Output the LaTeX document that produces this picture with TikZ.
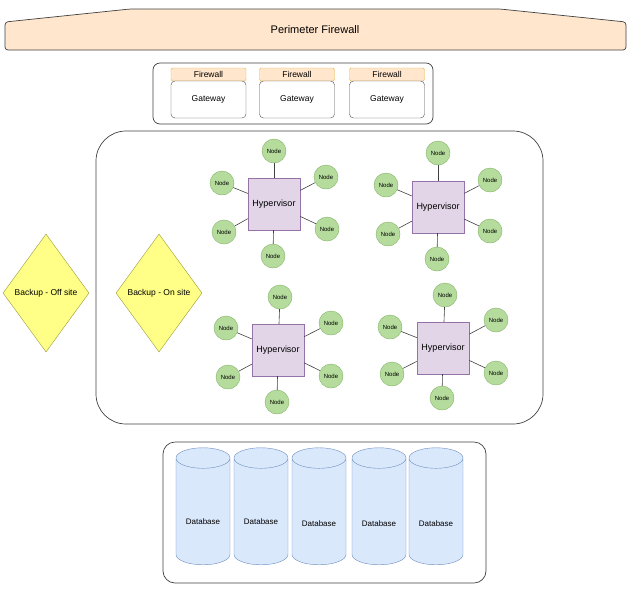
\documentclass[tikz,border=0pt]{standalone}
\usepackage{fontspec}
\setmainfont{Liberation Sans}
\usetikzlibrary{shapes.geometric}
\definecolor{fwf}{HTML}{FFE6CC}\definecolor{fwd}{HTML}{D79B00}
\definecolor{ndf}{HTML}{B5DC9C}\definecolor{ndd}{HTML}{82B366}
\definecolor{hvf}{HTML}{E1D5E7}\definecolor{hvd}{HTML}{9673A6}
\definecolor{dbf}{HTML}{DAE8FC}\definecolor{dbd}{HTML}{6C8EBF}
\definecolor{dmf}{HTML}{FFFF88}\definecolor{dmd}{HTML}{9A9A3A}
\begin{document}
\begin{tikzpicture}[x=1pt,y=-1pt,
  cont/.style={draw=black!75,rounded corners=#1,line width=0.7pt},
  hdr/.style={draw=fwd!70,fill=fwf,rounded corners=1.5pt,minimum width=75pt,minimum height=13pt,inner sep=0,font=\fontsize{8.5}{9}\selectfont},
  gw/.style={draw=black!70,fill=white,rounded corners=4pt,minimum width=75pt,minimum height=37pt,inner sep=0,font=\fontsize{8.5}{9}\selectfont},
  nd/.style={circle,draw=ndd,fill=ndf,minimum size=24pt,inner sep=0,font=\fontsize{6}{6}\selectfont},
  hv/.style={draw=hvd,fill=hvf,minimum size=52pt,inner sep=0,font=\fontsize{9}{9}\selectfont},
  dm/.style={diamond,aspect=0.72,draw=dmd,fill=dmf,inner sep=0,minimum width=86pt,minimum height=118pt,font=\fontsize{8.5}{9}\selectfont},
  db/.style={cylinder,shape border rotate=90,aspect=0.6,draw=dbd,fill=dbf,minimum width=54pt,minimum height=117pt,inner sep=0,font=\fontsize{8}{9}\selectfont},
  dbl/.style={font=\fontsize{8}{9}\selectfont},
  ln/.style={draw=black!75,line width=0.6pt}]
\useasboundingbox (0,0) rectangle (632,590);
\draw[draw=black!75,fill=fwf,line width=0.7pt,rounded corners=3pt] (5,22) -- (130,9) -- (500,9) -- (626,22) -- (626,50) -- (5,50) -- cycle;
\node (pf) at (315,30) {\fontsize{11}{12}\selectfont Perimeter Firewall};
\draw[cont=7pt] (153,63) rectangle (433,124);
\foreach \i/\x in {1/208.5,2/297,3/387}{
  \node[hdr] (f\i) at (\x,74.5) {Firewall};
  \node[gw] (g\i) at (\x,99.5) {Gateway};}
\draw[cont=30pt] (96,131) rectangle (543,424);
\node[dm] (b1) at (46,293) {Backup - Off site};
\node[dm] (b2) at (159,293) {Backup - On site};
\newcommand\cluster[3]{%
  \node[hv] (h#1) at #2 {Hypervisor};
  \foreach \p [count=\k] in {#3}{
    \node[nd] (n#1\k) at \p {Node};
    \draw[ln] (h#1) -- (n#1\k);}}
\cluster{a}{(274,204)}{(274,151),(326,177),(327,229),(273,256),(224,232),(222,183)}
\cluster{b}{(438,207)}{(438,153),(490,180),(490,231),(437,259),(388,234),(386,185)}
\cluster{c}{(278,350)}{(280,297),(331,323),(331,376),(277,402),(228,377),(226,328)}
\cluster{d}{(443,348)}{(445,295),(496,320),(496,373),(442,398),(392,374),(390,327)}
\draw[cont=12pt] (163,442) rectangle (486,583);
\foreach \i/\x/\y in {1/203/522,2/261/522,3/319/524,4/379/524,5/436/524}{
  \node[db] (d\i) at (\x,511.5) {\phantom{Database}};
  \node[dbl] (t\i) at (\x,\y) {Database};}
\end{tikzpicture}
\end{document}
